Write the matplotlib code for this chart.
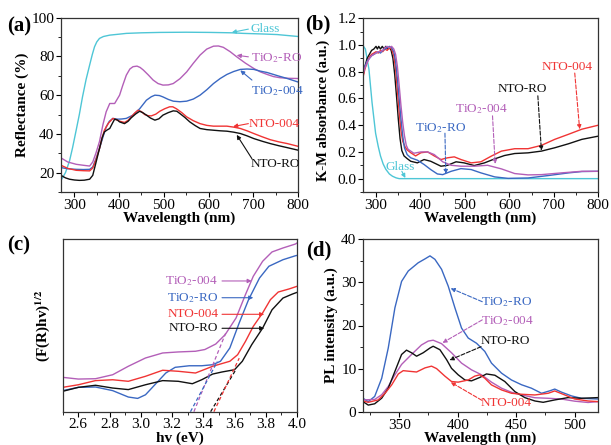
import matplotlib
matplotlib.use("Agg")
import matplotlib.pyplot as plt
from matplotlib.ticker import MultipleLocator

plt.rcParams['font.family'] = ['Liberation Serif', 'DejaVu Serif']
plt.rcParams['mathtext.fontset'] = 'stix'

C_PUR = '#b35fb8'
C_BLU = '#3a68c2'
C_RED = '#f03434'
C_BLK = '#111111'
C_CYA = '#4ec6d6'

# ---------------- (a) Reflectance ----------------
a_glass_x = [270, 280, 289, 296, 304, 311, 318, 326, 334, 340, 345, 350, 356, 365, 379, 400, 416, 450, 491, 550, 603, 652, 678, 720, 753, 800]
a_glass_y = [16, 20, 26, 33, 42, 50, 59, 68, 75.5, 81, 85, 87.5, 89.3, 90.3, 91, 91.5, 91.9, 92.2, 92.4, 92.5, 92.4, 92.2, 91.9, 91.6, 91.3, 90.3]

a_pur_x = [270, 285, 304, 320, 334, 341, 348, 356, 364, 371, 379, 390, 401, 408, 416, 424, 431, 440, 447, 454, 465, 476, 487, 498, 510, 521, 536, 551, 566, 581, 596, 611, 622, 633, 648, 663, 682, 701, 716, 731, 745, 760, 780, 800]
a_pur_y = [27.6, 25.5, 24.3, 23.8, 23.4, 25.5, 30, 36, 45, 51.4, 55.7, 55.7, 60, 65, 70.3, 73.5, 74.7, 75, 74.3, 73, 70.5, 67.8, 66, 65.2, 65.3, 66, 68.5, 72, 76.5, 80.7, 83.8, 85.3, 85.4, 84.7, 82.5, 79.8, 76.6, 73.8, 72, 70.7, 69.6, 69, 68.7, 68.6]

a_blu_x = [270, 285, 304, 320, 334, 341, 348, 356, 364, 371, 378, 386, 397, 406, 416, 431, 446, 461, 472, 480, 490, 498, 510, 521, 536, 551, 566, 581, 596, 611, 626, 641, 656, 671, 686, 701, 716, 731, 755, 776, 800]
a_blu_y = [22.6, 22, 21.7, 21.6, 21.7, 22.9, 27, 32.4, 38.5, 43.6, 46.5, 48, 47.6, 47.7, 48, 49.7, 53, 57.4, 59.2, 60, 59.8, 59.1, 57.8, 56.9, 56.6, 56.9, 58, 60, 62.8, 66, 68.6, 70.7, 72.2, 73.3, 73.5, 73.3, 72.4, 71.7, 70, 68.6, 66.8]

a_red_x = [270, 285, 304, 320, 334, 341, 348, 356, 362, 367, 376, 386, 394, 401, 412, 420, 427, 435, 442, 450, 457, 465, 472, 482, 491, 502, 513, 520, 528, 540, 551, 566, 581, 596, 611, 626, 641, 656, 671, 686, 701, 720, 738, 757, 776, 800]
a_red_y = [23.8, 22.2, 21.2, 21, 20.9, 22.4, 26.5, 32.4, 38, 41.9, 45.5, 48, 47.3, 46.6, 45.9, 47, 48.8, 50.8, 52.2, 51.5, 50, 49.4, 49.3, 50.2, 51.7, 53, 54, 54, 53, 51, 48.8, 46.8, 45.3, 44.4, 44, 44, 44, 43.5, 42.8, 41.6, 40.2, 38.5, 37, 35.9, 35, 33.6]

a_blk_x = [270, 280, 289, 300, 311, 322, 334, 341, 348, 356, 362, 367, 373, 379, 385, 390, 396, 401, 412, 420, 427, 437, 446, 454, 461, 470, 480, 489, 498, 510, 521, 529, 536, 547, 558, 570, 581, 596, 611, 626, 641, 656, 671, 686, 701, 720, 738, 757, 776, 800]
a_blk_y = [18.6, 17.3, 16.6, 16.2, 16, 16.1, 16.6, 18.6, 25, 32.4, 38, 41, 42, 42.8, 45.5, 47.6, 47.2, 46.2, 45.3, 46.5, 48.3, 50.3, 51.7, 50.8, 49.7, 48.2, 47.1, 47.8, 49.7, 51, 51.9, 51.7, 50.5, 48.5, 46.2, 44.3, 42.8, 42.2, 41.9, 41.6, 41.4, 40.9, 40.2, 39, 37.6, 36.2, 35, 33.9, 32.9, 31.6]

# ---------------- (b) K-M absorbance ----------------
b_glass_x = [270, 276, 284, 291, 299, 305, 310, 316, 322, 330, 337, 345, 352, 400, 500, 600, 700, 800]
b_glass_y = [1.0, 0.97, 0.82, 0.57, 0.34, 0.24, 0.17, 0.11, 0.07, 0.035, 0.018, 0.006, 0.0, 0.0, 0.0, 0.0, 0.0, 0.0]

b_blk_x = [270, 275, 280, 285, 290, 295, 300, 303, 306, 310, 314, 318, 322, 326, 330, 334, 338, 342, 346, 350, 354, 358, 363, 370, 378, 393, 408, 423, 446, 461, 480, 498, 521, 544, 567, 589, 612, 642, 672, 702, 733, 763, 800]
b_blk_y = [0.76, 0.84, 0.90, 0.93, 0.96, 0.97, 0.99, 0.97, 0.99, 0.97, 0.99, 0.97, 0.99, 0.97, 0.98, 0.96, 0.90, 0.78, 0.62, 0.45, 0.30, 0.21, 0.17, 0.15, 0.13, 0.118, 0.143, 0.13, 0.093, 0.10, 0.126, 0.118, 0.098, 0.118, 0.148, 0.173, 0.188, 0.193, 0.206, 0.231, 0.261, 0.294, 0.318]

b_red_x = [270, 275, 280, 285, 290, 295, 300, 305, 310, 315, 320, 325, 330, 335, 340, 344, 348, 352, 356, 360, 365, 370, 378, 389, 401, 416, 431, 446, 461, 476, 491, 514, 536, 559, 582, 612, 642, 672, 702, 733, 763, 800]
b_red_y = [0.75, 0.82, 0.87, 0.91, 0.93, 0.94, 0.95, 0.94, 0.96, 0.95, 0.97, 0.96, 0.98, 0.97, 0.92, 0.82, 0.66, 0.50, 0.36, 0.28, 0.24, 0.215, 0.194, 0.17, 0.194, 0.20, 0.17, 0.143, 0.156, 0.163, 0.143, 0.118, 0.126, 0.168, 0.206, 0.224, 0.224, 0.249, 0.294, 0.332, 0.37, 0.40]

b_blu_x = [270, 275, 280, 285, 290, 295, 300, 305, 310, 315, 320, 325, 330, 335, 340, 344, 348, 352, 356, 360, 364, 370, 378, 393, 408, 423, 438, 450, 469, 491, 514, 536, 567, 597, 642, 687, 733, 763, 800]
b_blu_y = [0.78, 0.84, 0.88, 0.90, 0.92, 0.93, 0.94, 0.95, 0.94, 0.96, 0.97, 0.98, 0.99, 0.98, 0.95, 0.88, 0.75, 0.60, 0.45, 0.32, 0.23, 0.18, 0.156, 0.138, 0.106, 0.068, 0.035, 0.03, 0.055, 0.075, 0.068, 0.043, 0.013, 0.002, 0.005, 0.023, 0.043, 0.053, 0.055]

b_pur_x = [270, 275, 280, 285, 290, 295, 300, 305, 310, 315, 320, 325, 330, 335, 340, 344, 348, 352, 356, 360, 364, 368, 372, 385, 401, 416, 431, 450, 469, 491, 521, 551, 582, 612, 642, 672, 717, 763, 800]
b_pur_y = [0.77, 0.83, 0.87, 0.90, 0.92, 0.93, 0.94, 0.95, 0.95, 0.96, 0.98, 0.99, 0.98, 0.99, 0.97, 0.93, 0.84, 0.70, 0.55, 0.42, 0.32, 0.25, 0.22, 0.19, 0.20, 0.20, 0.18, 0.126, 0.10, 0.093, 0.093, 0.10, 0.073, 0.038, 0.028, 0.03, 0.043, 0.055, 0.055]

# ---------------- (c) Tauc plot ----------------
c_pur_x = [2.5, 2.60, 2.71, 2.82, 2.92, 3.03, 3.14, 3.24, 3.35, 3.41, 3.48, 3.54, 3.61, 3.67, 3.72, 3.78, 3.84, 3.91, 3.99, 4.0]
c_pur_y = [0.199, 0.189, 0.191, 0.214, 0.263, 0.311, 0.34, 0.346, 0.35, 0.36, 0.392, 0.446, 0.543, 0.678, 0.784, 0.871, 0.925, 0.948, 0.971, 0.977]

c_blu_x = [2.5, 2.60, 2.71, 2.82, 2.92, 2.98, 3.03, 3.09, 3.16, 3.22, 3.31, 3.39, 3.46, 3.51, 3.57, 3.63, 3.69, 3.76, 3.82, 3.91, 3.99, 4.0]
c_blu_y = [0.122, 0.141, 0.143, 0.122, 0.085, 0.077, 0.098, 0.156, 0.224, 0.257, 0.266, 0.266, 0.272, 0.292, 0.369, 0.514, 0.649, 0.774, 0.842, 0.88, 0.903, 0.905]

c_red_x = [2.5, 2.60, 2.71, 2.82, 2.92, 3.03, 3.14, 3.24, 3.35, 3.46, 3.57, 3.62, 3.67, 3.72, 3.78, 3.83, 3.88, 3.95, 4.0]
c_red_y = [0.141, 0.156, 0.18, 0.185, 0.176, 0.205, 0.24, 0.234, 0.224, 0.263, 0.292, 0.33, 0.407, 0.494, 0.572, 0.649, 0.693, 0.711, 0.726]

c_blk_x = [2.5, 2.60, 2.71, 2.82, 2.92, 3.03, 3.14, 3.24, 3.33, 3.39, 3.46, 3.52, 3.60, 3.65, 3.71, 3.78, 3.84, 3.91, 3.97, 4.0]
c_blk_y = [0.118, 0.141, 0.153, 0.137, 0.128, 0.156, 0.18, 0.176, 0.162, 0.185, 0.218, 0.23, 0.243, 0.292, 0.388, 0.484, 0.59, 0.658, 0.681, 0.691]

# tangent (band-gap) lines: [x_bottom, x_top], [y_bottom, y_top]
c_tan_pur = ([3.34, 3.543], [0.0, 0.454])
c_tan_blu = ([3.318, 3.49], [0.0, 0.29])
c_tan_blk = ([3.447, 3.607], [0.0, 0.241])
c_tan_red = ([3.468, 3.63], [0.0, 0.31])

# ---------------- (d) PL spectra ----------------
d_blu_x = [319, 323.5, 329, 335, 340.6, 346.3, 352, 357.7, 366.2, 372, 376.3, 380.5, 386.2, 391.9, 397.6, 403.3, 409, 416.1, 423.2, 428.9, 437.5, 446, 454.6, 463.1, 471.7, 478.8, 483, 488.7, 497.3, 505.8, 520]
d_blu_y = [3.17, 2.4, 3.6, 7.8, 14.8, 24.1, 30.2, 32.6, 34.5, 35.4, 36.1, 35.3, 33, 29.1, 24.1, 19.4, 17.1, 15.9, 14, 11.3, 8.98, 7.4, 6.3, 5.5, 4.33, 4.9, 5.3, 4.6, 3.72, 3.17, 3.0]

d_pur_x = [319, 329, 335, 340.6, 346.3, 352, 360.5, 369, 374.8, 379, 386.2, 394.7, 403.3, 411.8, 420.4, 428.9, 437.5, 446, 454.6, 466, 477.4, 488.7, 500.1, 511.5, 520]
d_pur_y = [2.8, 2.9, 4.0, 5.9, 8.6, 11, 13.3, 15.5, 16.4, 16.6, 15.8, 13.7, 11.3, 9.75, 8.6, 6.9, 5.5, 4.56, 3.94, 3.3, 3.17, 3.0, 2.5, 2.2, 2.4]

d_blk_x = [319, 323.5, 329, 335, 340.6, 346.3, 352, 356.2, 360.5, 364.8, 370.5, 376.3, 379, 384.8, 390.5, 394.7, 400.4, 406.2, 411.8, 419, 424.6, 431.8, 440.3, 448.9, 457.4, 466, 473.1, 483, 494.4, 505.8, 520]
d_blk_y = [2.4, 1.6, 1.9, 3.2, 5.5, 9.4, 13.3, 14.3, 13.7, 12.9, 13.7, 14.8, 15.2, 14.4, 12.1, 10.1, 8.6, 7.4, 7.2, 8.0, 8.8, 8.5, 7.05, 4.72, 3.33, 2.55, 2.24, 2.79, 3.33, 3.17, 3.33]

d_red_x = [319, 323.5, 332, 337.8, 343.5, 349.2, 353.4, 359.1, 364.8, 372, 377.6, 381.9, 389, 394.7, 400.4, 409, 414.6, 419, 423.2, 428.9, 437.5, 446, 454.6, 466, 477.4, 483, 491.6, 500.1, 511.5, 520]
d_red_y = [2.55, 2.24, 2.8, 4.33, 6.26, 8.8, 9.56, 9.4, 9.25, 10.2, 10.6, 10.04, 8.3, 7.05, 6.9, 7.4, 8.3, 8.6, 7.8, 6.26, 5.1, 4.33, 4.1, 3.94, 4.33, 4.87, 3.94, 3.0, 2.55, 2.4]

W, H = 611, 445
fig = plt.figure(figsize=(W / 100, H / 100), dpi=100)


def box(l, r, t, b):
    return [l / W, 1 - b / H, (r - l) / W, (b - t) / H]


axa = fig.add_axes(box(61, 298, 17.7, 192))
axb = fig.add_axes(box(362.7, 598.3, 18.3, 192))
axc = fig.add_axes(box(62.7, 297, 239, 411.7))
axd = fig.add_axes(box(363, 598, 239, 412))

LW = 1.0
TICKFS = 11
LABFS = 11
ANNFS = 9.5


def style(ax):
    ax.tick_params(which='both', direction='out', top=False, right=False, labelsize=TICKFS)
    ax.tick_params(which='major', length=3.5, width=0.8, pad=1.2)
    ax.tick_params(which='minor', length=2, width=0.6)
    for s in ax.spines.values():
        s.set_linewidth(0.9)
        s.set_color('#333333')


def arrow(ax, start, tip, color, dashed=False):
    ax.annotate('', xy=tip, xytext=start,
                arrowprops=dict(arrowstyle='-|>', color=color, lw=0.8,
                                linestyle='--' if dashed else '-',
                                mutation_scale=6, shrinkA=0, shrinkB=0))


# (a)
axa.plot(a_glass_x, a_glass_y, color=C_CYA, lw=LW)
axa.plot(a_pur_x, a_pur_y, color=C_PUR, lw=LW)
axa.plot(a_blu_x, a_blu_y, color=C_BLU, lw=LW)
axa.plot(a_red_x, a_red_y, color=C_RED, lw=LW)
axa.plot(a_blk_x, a_blk_y, color=C_BLK, lw=LW)
axa.set_xlim(270, 800)
axa.set_ylim(10, 100)
axa.xaxis.set_major_locator(MultipleLocator(100))
axa.xaxis.set_minor_locator(MultipleLocator(50))
axa.yaxis.set_major_locator(MultipleLocator(20))
axa.yaxis.set_minor_locator(MultipleLocator(10))
style(axa)
axa.set_xlabel('Wavelength (nm)', fontsize=LABFS, fontweight='bold', labelpad=0)
axa.set_ylabel('Reflectance (%)', fontsize=LABFS, fontweight='bold', labelpad=2)
axa.text(693, 94.3, 'Glass', color=C_CYA, fontsize=ANNFS, va='center')
arrow(axa, (689, 94.1), (652, 92.4), C_CYA)
axa.text(694, 79.0, 'TiO$_2$-RO', color=C_PUR, fontsize=ANNFS, va='center')
arrow(axa, (689, 79.8), (663, 80.6), C_PUR)
axa.text(694, 62.2, 'TiO$_2$-004', color=C_BLU, fontsize=ANNFS, va='center')
arrow(axa, (697, 67.8), (671, 72.8), C_BLU)
axa.text(690, 44.9, 'NTO-004', color=C_RED, fontsize=ANNFS, va='center')
arrow(axa, (689, 45.3), (655, 43.8), C_RED)
axa.text(694, 24.6, 'NTO-RO', color=C_BLK, fontsize=ANNFS, va='center')
arrow(axa, (697, 27.2), (663, 39.5), C_BLK)

# (b)
axb.plot(b_glass_x, b_glass_y, color=C_CYA, lw=LW)
axb.plot(b_blk_x, b_blk_y, color=C_BLK, lw=LW)
axb.plot(b_red_x, b_red_y, color=C_RED, lw=LW)
axb.plot(b_blu_x, b_blu_y, color=C_BLU, lw=LW)
axb.plot(b_pur_x, b_pur_y, color=C_PUR, lw=LW)
axb.set_xlim(270, 800)
axb.set_ylim(-0.1, 1.2)
axb.xaxis.set_major_locator(MultipleLocator(100))
axb.xaxis.set_minor_locator(MultipleLocator(50))
axb.yaxis.set_major_locator(MultipleLocator(0.2))
axb.yaxis.set_minor_locator(MultipleLocator(0.1))
axb.yaxis.set_major_formatter(plt.FormatStrFormatter('%.1f'))
style(axb)
axb.set_xlabel('Wavelength (nm)', fontsize=LABFS, fontweight='bold', labelpad=0)
axb.set_ylabel('K-M absorbance (a.u.)', fontsize=10.5, fontweight='bold', labelpad=2)
axb.yaxis.set_label_coords(-0.14, 0.47)
axb.text(729, 0.835, 'NTO-004', color=C_RED, fontsize=ANNFS, ha='center', va='center')
arrow(axb, (747, 0.79), (758, 0.37), C_RED, dashed=True)
axb.text(629, 0.672, 'NTO-RO', color=C_BLK, fontsize=ANNFS, ha='center', va='center')
arrow(axb, (664, 0.62), (672, 0.21), C_BLK, dashed=True)
axb.text(538, 0.52, 'TiO$_2$-004', color=C_PUR, fontsize=ANNFS, ha='center', va='center')
arrow(axb, (562, 0.47), (568, 0.11), C_PUR, dashed=True)
axb.text(446, 0.38, 'TiO$_2$-RO', color=C_BLU, fontsize=ANNFS, ha='center', va='center')
arrow(axb, (455, 0.34), (457, 0.035), C_BLU, dashed=True)
axb.text(355, 0.088, 'Glass', color=C_CYA, fontsize=ANNFS, ha='center', va='center')
arrow(axb, (358, 0.055), (366, 0.005), C_CYA)

# (c)
axc.plot(c_pur_x, c_pur_y, color=C_PUR, lw=LW)
axc.plot(c_blu_x, c_blu_y, color=C_BLU, lw=LW)
axc.plot(c_red_x, c_red_y, color=C_RED, lw=LW)
axc.plot(c_blk_x, c_blk_y, color=C_BLK, lw=LW)
axc.plot(*c_tan_pur, color=C_PUR, lw=0.9, ls=(0, (3, 2)))
axc.plot(*c_tan_blu, color=C_BLU, lw=0.9, ls=(0, (3, 2)))
axc.plot(*c_tan_blk, color=C_BLK, lw=0.9, ls=(0, (3, 2)))
axc.plot(*c_tan_red, color=C_RED, lw=0.9, ls=(0, (3, 2)))
axc.set_xlim(2.5, 4.0)
axc.set_ylim(0, 1)
axc.xaxis.set_major_locator(MultipleLocator(0.2))
axc.xaxis.set_minor_locator(MultipleLocator(0.1))
axc.xaxis.set_major_formatter(plt.FormatStrFormatter('%.1f'))
axc.set_yticks([])
style(axc)
axc.set_xlabel('hv (eV)', fontsize=LABFS, fontweight='bold', labelpad=0)
axc.set_ylabel('(F(R)hv)$^{\\mathbf{1/2}}$', fontsize=LABFS, fontweight='bold', labelpad=8)
axc.text(3.495, 0.757, 'TiO$_2$-004', color=C_PUR, fontsize=ANNFS, ha='right', va='center')
arrow(axc, (3.52, 0.757), (3.71, 0.757), C_PUR)
axc.text(3.495, 0.66, 'TiO$_2$-RO', color=C_BLU, fontsize=ANNFS, ha='right', va='center')
arrow(axc, (3.52, 0.66), (3.72, 0.66), C_BLU)
axc.text(3.495, 0.564, 'NTO-004', color=C_RED, fontsize=ANNFS, ha='right', va='center')
arrow(axc, (3.52, 0.564), (3.79, 0.564), C_RED)
axc.text(3.495, 0.483, 'NTO-RO', color=C_BLK, fontsize=ANNFS, ha='right', va='center')
arrow(axc, (3.52, 0.483), (3.79, 0.483), C_BLK)

# (d)
axd.plot(d_blu_x, d_blu_y, color=C_BLU, lw=LW)
axd.plot(d_pur_x, d_pur_y, color=C_PUR, lw=LW)
axd.plot(d_blk_x, d_blk_y, color=C_BLK, lw=LW)
axd.plot(d_red_x, d_red_y, color=C_RED, lw=LW)
axd.set_xlim(319, 520)
axd.set_ylim(0, 40)
axd.xaxis.set_major_locator(MultipleLocator(50))
axd.xaxis.set_minor_locator(MultipleLocator(25))
axd.yaxis.set_major_locator(MultipleLocator(10))
axd.yaxis.set_minor_locator(MultipleLocator(5))
style(axd)
axd.set_xlabel('Wavelength (nm)', fontsize=LABFS, fontweight='bold', labelpad=0)
axd.set_ylabel('PL intensity (a.u.)', fontsize=LABFS, fontweight='bold', labelpad=2)
axd.text(442, 25.3, 'TiO$_2$-RO', color=C_BLU, fontsize=ANNFS, ha='center', va='center')
arrow(axd, (421, 25.5), (394, 28.6), C_BLU, dashed=True)
axd.text(442.5, 21.1, 'TiO$_2$-004', color=C_PUR, fontsize=ANNFS, ha='center', va='center')
arrow(axd, (421, 21.3), (387, 16.0), C_PUR, dashed=True)
axd.text(441, 16.5, 'NTO-RO', color=C_BLK, fontsize=ANNFS, ha='center', va='center')
arrow(axd, (420, 15.1), (393, 12.0), C_BLK, dashed=True)
axd.text(441, 2.1, 'NTO-004', color=C_RED, fontsize=ANNFS, ha='center', va='center')
arrow(axd, (420.7, 2.7), (394, 6.9), C_RED, dashed=True)

# panel labels
for lab, (px, py) in {'(a)': (19, 26), '(b)': (318, 24), '(c)': (19, 245), '(d)': (319, 250)}.items():
    fig.text(px / W, 1 - py / H, lab, fontsize=15, fontweight='bold', ha='center', va='center')

fig.savefig('out.png', dpi=100)
